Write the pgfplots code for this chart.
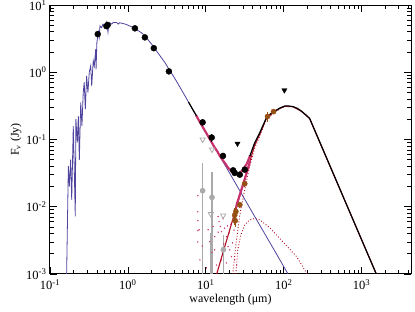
\documentclass[border=0pt]{standalone}
\usepackage{fontspec}
\setmainfont{Liberation Serif}
\usepackage{pgfplots}
\pgfplotsset{compat=1.18}
\definecolor{starblue}{RGB}{78,68,158}
\definecolor{diskred}{RGB}{175,15,35}
\definecolor{irsmag}{RGB}{200,50,110}
\definecolor{excbrown}{RGB}{150,80,20}
\definecolor{lgray}{RGB}{170,170,170}
\begin{document}
\begin{tikzpicture}
\begin{axis}[
  name=ax,
  scale only axis, width=361pt, height=269pt,
  xmode=log, ymode=log, log basis x=10, log basis y=10,
  xmin=0.1, xmax=4300, ymin=1e-3, ymax=10,
  tick align=inside, major tick length=7pt, minor tick length=4pt,
  axis line style={line width=1pt},
  every tick/.style={black, line width=0.8pt},
  /pgf/number format/assume math mode=true,
  xticklabel={10\textsuperscript{\pgfmathparse{int(round(\tick))}\pgfmathresult}},
  yticklabel={10\textsuperscript{\pgfmathparse{int(round(\tick))}\pgfmathresult}},
  tick label style={font=\fontsize{12.5}{14}\selectfont},
  xticklabel style={yshift=-2pt},
  label style={font=\fontsize{12}{14}\selectfont},
  xlabel={wavelength (μm)}, ylabel={F\textsubscript{ν} (Jy)},
  xlabel style={at={(axis description cs:0.5,-0.097)}, anchor=center},
  ylabel style={at={(axis description cs:-0.094,0.5)}, anchor=center},
  clip=true,
]
% stellar photosphere
\addplot[starblue, line width=0.8pt] coordinates {
(0.163,0.0008) (0.172,0.040) (0.177,0.020) (0.184,0.050) (0.190,0.0127)
(0.199,0.158) (0.205,0.0356) (0.211,0.0072) (0.215,0.20) (0.224,0.090)
(0.231,0.223) (0.238,0.050) (0.248,0.356) (0.257,0.158) (0.267,0.50)
(0.275,0.71) (0.284,0.28) (0.295,0.88) (0.307,0.50) (0.319,1.0)
(0.333,1.24) (0.343,0.625) (0.359,1.48) (0.370,1.24) (0.386,2.2)
(0.39,1.1) (0.40,2.8) (0.417,3.95) (0.428,3.3) (0.438,4.9) (0.46,4.6)
(0.478,5.2) (0.50,4.9) (0.533,5.6) (0.555,3.95) (0.57,5.3) (0.59,5.4)
(0.62,5.2) (0.65,5.5) (0.716,5.5) (0.75,5.2) (0.78,5.45) (0.863,5.3)
(0.95,5.15) (1.0,5.0) (1.17,4.64) (1.5,3.85) (1.65,3.48) (2.0,2.65)
(2.16,2.34) (2.5,1.85) (3.0,1.38) (3.38,1.1) (4,0.81) (5,0.52) (6,0.36)
(8,0.20) (10,0.129) (15,0.0573) (20,0.0323) (30,0.0143) (50,0.00516)
(80,0.00202) (115,0.000975) (120,0.0009)
};
% excess spectrum (noisy dots)
\addplot[only marks, mark=*, mark size=0.45pt, irsmag] coordinates {
(7.9,0.0146) (7.9,0.0084) (7.9,0.0062) (7.9,0.0044) (7.9,0.0030)
(8.2,0.00454) (8.4,0.00162) (10.2,0.00123) (10.7,0.00454) (11.2,0.00303)
(12.4,0.00508) (13.0,0.0036) (14.4,0.00716) (14.8,0.0060) (15.4,0.00508)
(15.9,0.00428) (16.7,0.00662) (14.4,0.00419) (18.4,0.0036) (19.3,0.00255)
(20.3,0.00228) (21.3,0.00181) (22.0,0.0029) (23.5,0.00162) (24.8,0.00136)
(13.0,0.00228) (18.4,0.00146) (15.9,0.00162) (13.7,0.00136)
(17.5,0.0048) (19.0,0.0052) (20.0,0.0041) (21.0,0.0055) (22.5,0.0068)
(23.0,0.0045) (24.0,0.0078) (12.0,0.0021) (9.0,0.0026) (17.0,0.0028)
};
% warm component (dotted)
\addplot[diskred, dotted, line width=0.9pt] coordinates {
(24.3,0.001) (25.7,0.00228) (28.1,0.0038) (31.6,0.0054) (36.6,0.0064)
(42.5,0.0067) (49.2,0.0064) (66.2,0.00486) (97,0.00303) (147,0.0018)
(203,0.00097) (210,0.0009)
};
% cold component (dotted)
\addplot[diskred, dotted, line width=0.9pt] coordinates {
(22.0,0.0009) (22.2,0.001) (24.3,0.0027) (27.3,0.0076) (31.6,0.018)
(36.6,0.040) (42,0.072) (49.2,0.112) (60,0.2) (76.7,0.258) (103,0.31)
};
% disk model (solid red)
\addplot[diskred, line width=1.1pt] coordinates {
(13.5,0.0009) (13.8,0.001) (16,0.0018) (20,0.0043) (25,0.0104) (30,0.021)
(36.6,0.0465) (42,0.08) (49.2,0.12) (55,0.164) (60,0.207) (76.7,0.262)
(90,0.292) (103,0.312) (131.6,0.307) (168.6,0.263) (215,0.205) (1542,0.001)
};
% IRS spectrum (thick magenta)
\addplot[irsmag, line width=2.2pt] coordinates {
(7.5,0.229) (8,0.2) (9,0.158) (10,0.128) (11,0.106) (12,0.089) (13,0.076)
(14,0.067) (15,0.058) (16,0.052) (17,0.047) (18,0.043) (19,0.039) (20,0.0365)
(21,0.0345) (22,0.033) (23,0.032) (24,0.0313) (25,0.031) (26,0.031)
(27,0.0318) (28,0.0328) (29,0.034) (30,0.0355) (31,0.038) (32,0.04)
(33,0.042) (34,0.045) (35,0.049) (36,0.053) (37,0.058)
};
\addplot[irsmag, line width=2.2pt] coordinates {
(24,0.0085) (25,0.011) (28,0.0165) (31,0.024) (34,0.034) (37,0.048)
};
% total model
\addplot[black, line width=1.2pt] coordinates {
(6,0.36) (7,0.263) (7.6,0.225)
};
\addplot[black, line width=1.2pt] coordinates {
(36.6,0.0561) (42,0.087) (49.2,0.126) (55,0.168) (60,0.211) (68,0.242)
(76.7,0.264) (90,0.295) (103,0.314) (115,0.315) (131.6,0.308) (150,0.29)
(168.6,0.264) (190,0.235) (215,0.206) (1542,0.001) (1700,0.00077)
};
% gray excess bars
\addplot[lgray, line width=1.6pt] coordinates {(9.1,1e-4) (9.1,0.0454)};
\addplot[lgray, line width=1.6pt] coordinates {(12,1e-4) (12,0.0324)};
\addplot[lgray, line width=1.6pt] coordinates {(11.5,1e-4) (11.5,0.0041)};
\addplot[lgray, line width=1.6pt] coordinates {(16.8,1e-4) (16.8,0.0038)};
\addplot[only marks, mark=*, mark size=2.6pt, lgray] coordinates {
(9.1,0.0173) (12,0.0138) (16.8,0.0023)};
\addplot[only marks, mark=triangle, mark size=3pt, lgray, thick,
  mark options={rotate=180}] coordinates {
(9.1,0.1) (12,0.071) (11.6,0.0078) (16.7,0.0074)};
% excess photometry
\addplot[only marks, mark=*, mark size=2.6pt, excbrown,
  error bars/.cd, y dir=both, y explicit, error mark=none,
  error bar style={line width=1pt, excbrown}] coordinates {
(62,0.22) +- (0,0.035) (74,0.26) +- (0,0.02) (31.6,0.022) +- (0,0.002)
(27.3,0.0107) +- (0,0.0012) (23.5,0.0075) +- (0,0.0022)
(24.3,0.0085) +- (0,0.0015) (23.8,0.0062) +- (0,0.0012)};
% photometry
\addplot[only marks, mark=*, mark size=3pt, black,
  error bars/.cd, y dir=both, y explicit, error mark=none,
  error bar style={line width=1pt, black}] coordinates {
(0.41,3.69) (0.53,4.85) (0.55,5.05) (1.23,4.5) (1.65,3.3) (2.15,2.28)
(3.36,1.03) (9.1,0.18) +- (0,0.02) (11.9,0.107) +- (0,0.015) (16.6,0.057)
(22.4,0.0348) (23.5,0.0318) (27.3,0.030) (31.6,0.0356)};
\addplot[only marks, mark=triangle*, mark size=3pt, black,
  mark options={rotate=180}] coordinates {(102,0.54) (25.5,0.087)};
\end{axis}
\pgfresetboundingbox
\path ([shift={(-50pt,-38pt)}]ax.south west) rectangle ([shift={(4pt,5pt)}]ax.north east);
\end{tikzpicture}
\end{document}
